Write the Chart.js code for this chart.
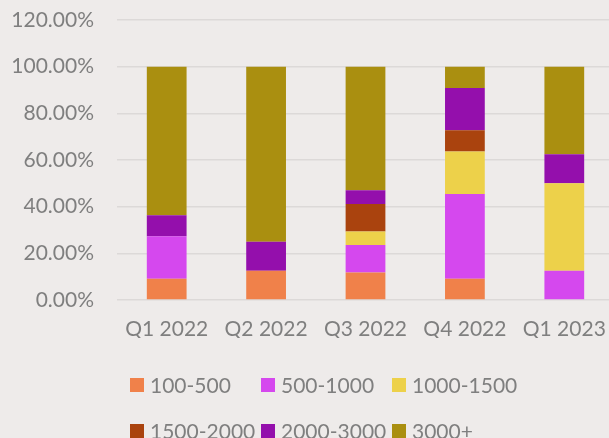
<!DOCTYPE html>
<html>
<head>
<meta charset="utf-8">
<script src="https://cdn.jsdelivr.net/npm/chart.js@4/dist/chart.umd.min.js"></script>
<style>
  html, body { margin: 0; padding: 0; background: #eeebea; overflow: hidden; }
  #wrap { position: relative; width: 614px; height: 438px; }
  #legend { position: absolute; left: 0; top: 0; width: 609px; height: 438px; pointer-events: none; }
  .item { position: absolute; font-family: Lato, sans-serif; font-size: 21px; color: #7f7f7f; line-height: 24px; white-space: nowrap; }
  .item span.box { position: absolute; left: 0; top: 5px; width: 14px; height: 14px; }
  .item span.txt { position: absolute; left: 20px; top: 0; }
</style>
</head>
<body>
<div id="wrap">
  <canvas id="grafico" width="614" height="438"></canvas>
  <div id="legend"></div>
</div>
<script>
// categorias y series (porcentaje de cada rango por trimestre)
var trimestres = ['Q1 2022', 'Q2 2022', 'Q3 2022', 'Q4 2022', 'Q1 2023'];
var rangos = ['100-500', '500-1000', '1000-1500', '1500-2000', '2000-3000', '3000+'];
var colores = ['#f0814a', '#d548ee', '#edd14a', '#aa430e', '#940fac', '#aa8f10'];

var r100_500   = [9.09, 12.5, 11.76, 9.09, 0];
var r500_1000  = [18.18, 0, 11.76, 36.36, 12.5];
var r1000_1500 = [0, 0, 5.88, 18.18, 37.5];
var r1500_2000 = [0, 0, 11.76, 9.09, 0];
var r2000_3000 = [9.09, 12.5, 5.88, 18.18, 12.5];
var r3000      = [63.64, 75, 52.94, 9.09, 37.5];

var ticksY = [0, 20, 40, 60, 80, 100, 120];

var series = [r100_500, r500_1000, r1000_1500, r1500_2000, r2000_3000, r3000];
var datasets = series.map(function (d, i) {
  return {
    label: rangos[i],
    data: d,
    backgroundColor: colores[i],
    borderWidth: 0,
    barPercentage: 0.4,
    categoryPercentage: 1
  };
});

var fuente = { family: 'Lato, sans-serif', size: 21 };

var ctx = document.getElementById('grafico').getContext('2d');
var grafico = new Chart(ctx, {
  type: 'bar',
  data: { labels: trimestres, datasets: datasets },
  options: {
    responsive: false,
    animation: false,
    layout: { padding: { top: 20, bottom: 100, left: 0, right: 0 } },
    plugins: { legend: { display: false }, tooltip: { enabled: false } },
    scales: {
      x: {
        stacked: true,
        grid: { display: false, drawTicks: false },
        border: { display: false },
        ticks: { color: '#7f7f7f', font: fuente, padding: 17, maxRotation: 0 },
        afterFit: function (s) { s.height = 38; s.paddingLeft = 0; s.paddingRight = 0; }
      },
      y: {
        stacked: true,
        min: 0,
        max: 120,
        afterBuildTicks: function (s) { s.ticks = ticksY.map(function (v) { return { value: v }; }); },
        grid: { color: '#dcd9d8', lineWidth: 1.5, drawTicks: false },
        border: { display: false },
        ticks: {
          color: '#7f7f7f',
          font: fuente,
          padding: 23,
          callback: function (v) { return v.toFixed(2) + '%'; }
        },
        afterFit: function (s) { s.width = 117; s.paddingTop = 0; s.paddingBottom = 0; }
      }
    }
  }
});

// leyenda en dos filas, columnas fijas
var legend = document.getElementById('legend');
var colX = [130, 261, 392];
var filaY = [373, 419];
rangos.forEach(function (nombre, i) {
  var el = document.createElement('div');
  el.className = 'item';
  el.style.left = colX[i % 3] + 'px';
  el.style.top = filaY[Math.floor(i / 3)] + 'px';
  el.innerHTML = '<span class="box" style="background:' + colores[i] + '"></span><span class="txt">' + nombre + '</span>';
  legend.appendChild(el);
});
</script>
</body>
</html>
